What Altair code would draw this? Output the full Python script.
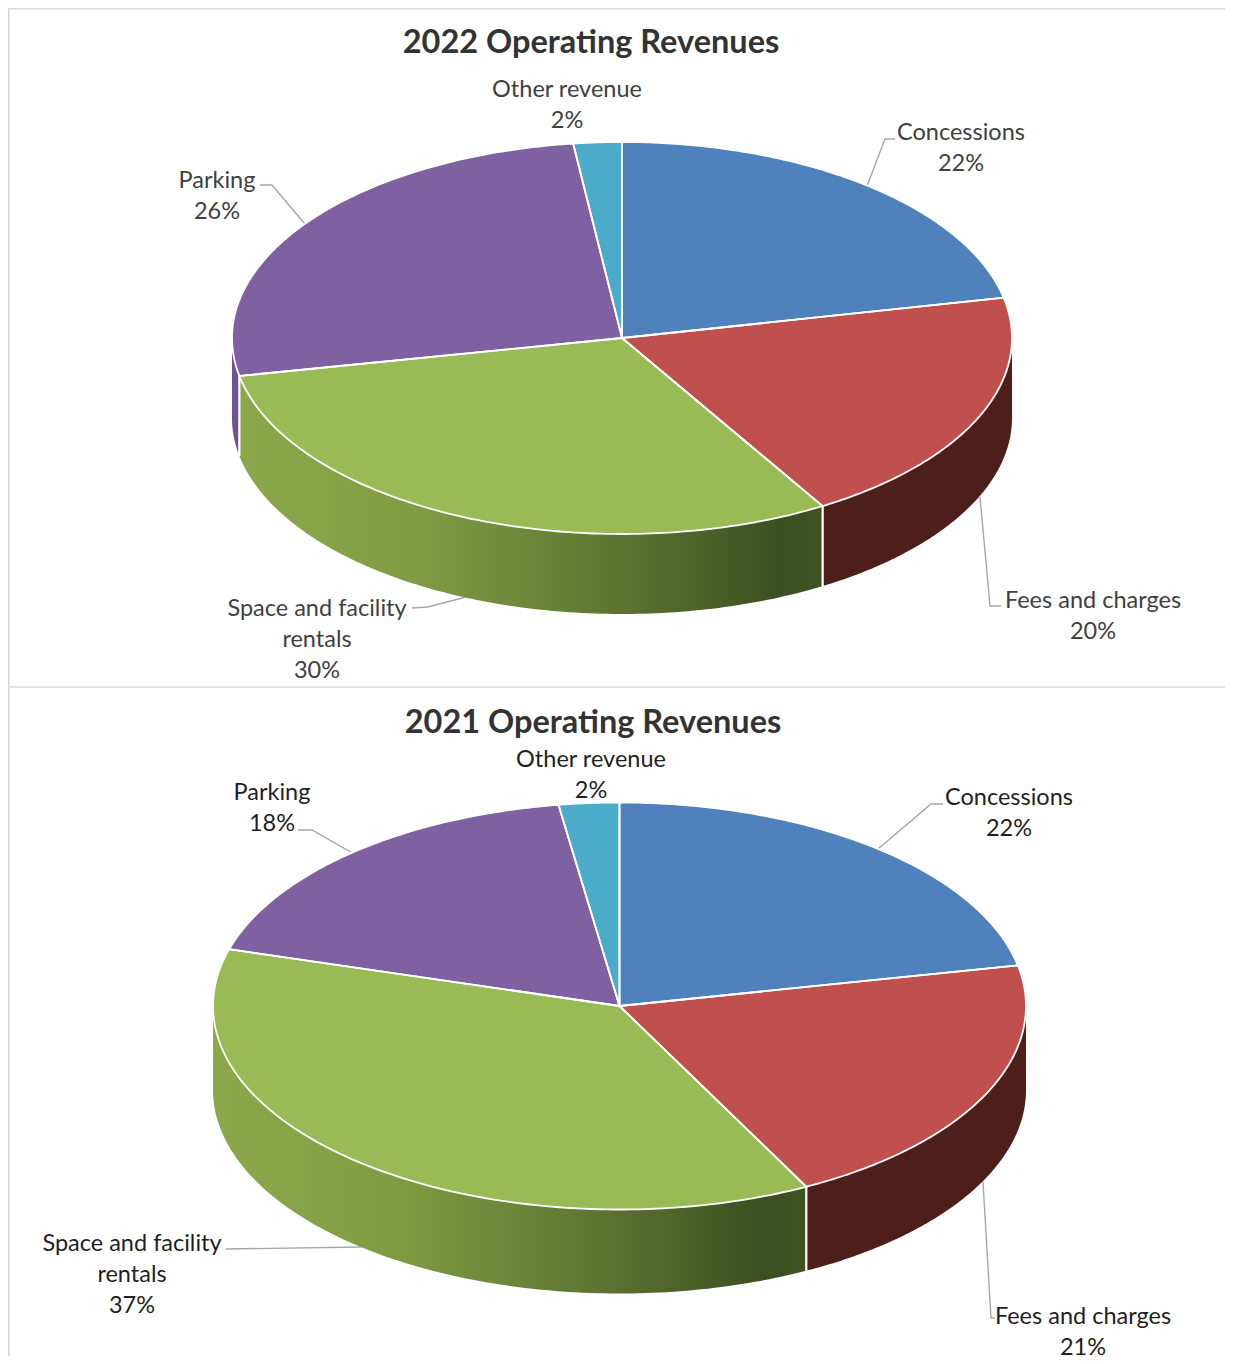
import altair as alt
import numpy as np
import pandas as pd

CATEGORIES = ["Concessions", "Fees and charges", "Space and facility rentals", "Parking", "Other revenue"]
SHARES_2022 = [21.7, 19.7, 30.5, 26.1, 2.0]
SHARES_2021 = [21.8, 20.6, 37.1, 18.1, 2.4]
TOP_COLORS = ["#4f81bd", "#c0504d", "#98bb56", "#7f60a0", "#4aacc8"]
WALL_FILLS = {
    "Fees and charges": "#4e1f1a",
    "Parking": "#6f5293",
}
GREEN_STOPS = [(0, "#8ba94b"), (0.3, "#7f9c43"), (0.5, "#6c8739"), (0.72, "#556b2e"), (0.93, "#3b4f20"), (1, "#3f5222")]
FONT = "Lato"
LEADER = "#a6a6a6"
FRAME = "#d9d9d9"

PANELS = [
    dict(title="2022 Operating Revenues", shares=SHARES_2022, top=8, bottom=687,
         cx=622, cy=338, rx=390, ry=196, depth=80, text="#404040", title_at=(591, 42.5),
         labels=[("Concessions", 961, 132.5), ("Fees and charges", 1093, 600.5),
                 ("Space and facility\nrentals", 317, 608.5), ("Parking", 217, 180.5), ("Other revenue", 567, 89.5)],
         leaders=[[(867, 186), (885, 139), (895, 139)],
                  [(980, 497), (990, 606), (1001, 606)],
                  [(412, 608), (428, 607), (466, 597)],
                  [(260, 185), (272, 185), (305, 224)]]),
    dict(title="2021 Operating Revenues", shares=SHARES_2021, top=687, bottom=1356,
         cx=619.5, cy=1006, rx=406.5, ry=203.5, depth=84, text="#1f1f1f", title_at=(593, 722.5),
         labels=[("Concessions", 1009, 797.5), ("Fees and charges", 1083, 1316.5),
                 ("Space and facility\nrentals", 132, 1243.5), ("Parking", 272, 792.5), ("Other revenue", 591, 759.5)],
         leaders=[[(878, 849), (931, 804), (943, 804)],
                  [(983, 1182), (991, 1318), (995, 1318)],
                  [(226, 1249), (362, 1247)],
                  [(298, 830), (312, 830), (354, 854)]]),
]
WIDTH = 1217
HEIGHT = 1348
LEFT = 8
TOP = 8

X = alt.X("x:Q", scale=alt.Scale(domain=[LEFT, LEFT + WIDTH], nice=False, zero=False), axis=None)
Y = alt.Y("y:Q", scale=alt.Scale(domain=[TOP + HEIGHT, TOP], nice=False, zero=False), axis=None)


def ell(p, a):
    return p["cx"] + p["rx"] * np.sin(a), p["cy"] - p["ry"] * np.cos(a)


def sector_frames(p, a0, a1):
    arc = np.linspace(a0, a1, 120)
    ax, ay = ell(p, arc)
    px = np.r_[p["cx"], ax, p["cx"]]
    py = np.r_[p["cy"], ay, p["cy"]]
    rows = []
    for x in np.unique(np.round(px, 3)):
        ys = []
        for i in range(len(px) - 1):
            x1, x2, y1, y2 = px[i], px[i + 1], py[i], py[i + 1]
            if min(x1, x2) - 1e-3 <= x <= max(x1, x2) + 1e-3:
                if abs(x2 - x1) < 1e-6:
                    ys += [y1, y2]
                else:
                    ys.append(y1 + (y2 - y1) * (x - x1) / (x2 - x1))
        rows.append({"x": float(x), "y": float(min(ys)), "y2": float(max(ys))})
    fill = pd.DataFrame(rows)
    outline = pd.DataFrame({"x": px, "y": py, "i": np.arange(len(px))})
    return fill, outline


def polyline(df, color, width):
    return alt.Chart(df).mark_line(color=color, strokeWidth=width, clip=False).encode(
        x=X, y=Y, order="i:Q")


def band(df, paint):
    return alt.Chart(df).mark_area(color=paint, clip=False, orient="vertical").encode(
        x=X, y=Y, y2=alt.Y2("y2:Q"))


def panel(p):
    layers = []
    for pts in p["leaders"]:
        df = pd.DataFrame({"x": [q[0] for q in pts], "y": [q[1] for q in pts], "i": range(len(pts))})
        layers.append(polyline(df, LEADER, 1.4))

    fracs = np.cumsum([0] + p["shares"]) / sum(p["shares"]) * 2 * np.pi
    tops, whites = [], []
    lo, hi = np.pi / 2, 3 * np.pi / 2
    for k, cat in enumerate(CATEGORIES):
        a0, a1 = fracs[k], fracs[k + 1]
        fill, outline = sector_frames(p, a0, a1)
        tops.append(band(fill, TOP_COLORS[k]))
        whites.append(polyline(outline, "#ffffff", 1.8))
        w0, w1 = max(a0, lo), min(a1, hi)
        if w1 > w0:
            arc = np.linspace(w0, w1, 120)
            ax, ay = ell(p, arc)
            wall = pd.DataFrame({"x": ax, "y": ay, "y2": ay + p["depth"]}).sort_values("x")
            if cat in WALL_FILLS:
                paint = WALL_FILLS[cat]
            else:
                paint = alt.Gradient(gradient="linear", x1=0, x2=1, y1=0, y2=0,
                                     stops=[alt.GradientStop(offset=o, color=c) for o, c in GREEN_STOPS])
            layers.append(band(wall, paint))
            for edge in (w0, w1):
                if lo < edge < hi:
                    ex, ey = ell(p, edge)
                    whites.append(polyline(pd.DataFrame({"x": [ex, ex], "y": [ey, ey + p["depth"]], "i": [0, 1]}),
                                           "#ffffff", 1.8))
    layers += tops + whites

    # labels: name lines plus the rounded share, 31px apart (y is the first line's middle)
    share_of = dict(zip(CATEGORIES, p["shares"]))
    rows = []
    for (name, x, y), cat in zip(p["labels"], CATEGORIES):
        lines = name.split("\n") + [f"{round(share_of[cat])}%"]
        rows.append({"x": x, "y": y, "t": "\n".join(lines)})
    layers.append(alt.Chart(pd.DataFrame(rows)).mark_text(
        font=FONT, fontSize=23.5, color=p["text"], lineBreak="\n", lineHeight=31,
        align="center", baseline="middle", clip=False).encode(x=X, y=Y, text="t:N"))

    layers.append(alt.Chart(pd.DataFrame({"x": [p["title_at"][0]], "y": [p["title_at"][1]], "t": [p["title"]]})).mark_text(
        font=FONT, fontSize=32.5, fontWeight="bold", color="#333333",
        align="center", baseline="middle", clip=False).encode(x=X, y=Y, text="t:N"))
    return layers


frame_lines = [
    polyline(pd.DataFrame({"x": [LEFT, LEFT + WIDTH], "y": [TOP + 0.8] * 2, "i": [0, 1]}), FRAME, 1.6),
    polyline(pd.DataFrame({"x": [LEFT + 0.8] * 2, "y": [TOP, TOP + HEIGHT], "i": [0, 1]}), FRAME, 1.6),
    polyline(pd.DataFrame({"x": [LEFT, LEFT + WIDTH], "y": [PANELS[0]["bottom"]] * 2, "i": [0, 1]}), FRAME, 1.6),
]

all_layers = frame_lines + panel(PANELS[0]) + panel(PANELS[1])
chart = alt.layer(*all_layers).properties(
    width=WIDTH, height=HEIGHT, padding=0, autosize=alt.AutoSizeParams(type="none")
).configure_view(stroke=None)
chart.save("out.html", embed_options={"renderer": "svg", "actions": False})
